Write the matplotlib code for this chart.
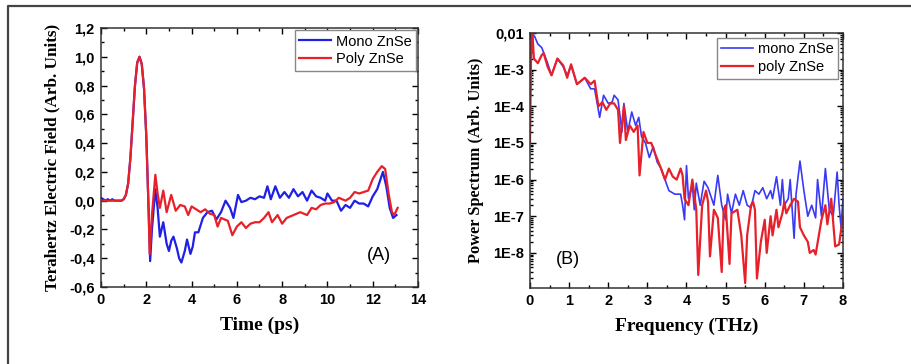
import math
import matplotlib.pyplot as plt
from matplotlib.ticker import MultipleLocator, FuncFormatter, LogLocator, NullFormatter
from matplotlib.lines import Line2D

# time-domain THz field (ps, arb. units)
t_mono = [0.0, 0.1, 0.2, 0.3, 0.4, 0.5, 0.6, 0.7, 0.8, 0.9, 1.0, 1.1, 1.2, 1.3, 1.4, 1.5,
          1.6, 1.7, 1.8, 1.9, 2.0, 2.1, 2.17, 2.25, 2.4, 2.5, 2.6, 2.75, 2.9, 3.0, 3.1,
          3.2, 3.35, 3.45, 3.55, 3.7, 3.8, 3.95, 4.05, 4.15, 4.3, 4.5, 4.7, 4.9, 5.1,
          5.3, 5.5, 5.7, 5.85, 6.05, 6.2, 6.4, 6.6, 6.8, 7.0, 7.2, 7.35, 7.5, 7.7, 7.9,
          8.1, 8.3, 8.5, 8.7, 8.9, 9.1, 9.3, 9.5, 9.7, 9.9, 10.0, 10.2, 10.4, 10.6, 10.8,
          11.0, 11.2, 11.4, 11.6, 11.8, 12.0, 12.2, 12.45, 12.6, 12.75, 12.9, 13.05]
e_mono = [0.02, 0.01, 0.0, 0.01, 0.0, 0.01, 0.0, 0.0, 0.0, 0.0, 0.01, 0.04, 0.12, 0.3, 0.55,
          0.8, 0.96, 1.0, 0.95, 0.78, 0.45, -0.05, -0.42, -0.2, 0.08, -0.05, -0.25, -0.15,
          -0.3, -0.35, -0.28, -0.25, -0.33, -0.4, -0.43, -0.35, -0.27, -0.37, -0.32,
          -0.22, -0.22, -0.12, -0.08, -0.07, -0.13, -0.08, 0.0, -0.05, -0.12, 0.04,
          -0.01, 0.0, 0.02, 0.01, 0.03, 0.02, 0.1, 0.01, 0.1, 0.02, 0.06, 0.02, 0.08,
          0.03, 0.06, 0.0, 0.07, 0.03, 0.02, 0.0, 0.05, 0.0, 0.0, -0.07, -0.03, -0.05,
          0.0, -0.02, -0.02, -0.04, 0.03, 0.08, 0.2, 0.1, -0.05, -0.12, -0.1]

t_poly = [0.0, 0.1, 0.2, 0.3, 0.4, 0.5, 0.6, 0.7, 0.8, 0.9, 1.0, 1.1, 1.2, 1.3, 1.4, 1.5,
          1.6, 1.7, 1.8, 1.9, 2.0, 2.1, 2.15, 2.25, 2.4, 2.5, 2.6, 2.75, 2.9, 3.1, 3.3,
          3.5, 3.7, 3.85, 4.0, 4.2, 4.4, 4.6, 4.8, 5.0, 5.15, 5.3, 5.45, 5.6, 5.8, 6.0,
          6.2, 6.4, 6.6, 6.8, 7.0, 7.2, 7.4, 7.55, 7.8, 8.0, 8.2, 8.5, 8.8, 9.1, 9.3,
          9.5, 9.7, 9.9, 10.1, 10.3, 10.5, 10.8, 11.0, 11.2, 11.4, 11.6, 11.8, 12.0,
          12.2, 12.4, 12.55, 12.7, 12.85, 12.95, 13.1]
e_poly = [0.0, 0.0, 0.0, 0.0, 0.0, 0.0, 0.0, 0.0, 0.0, 0.0, 0.01, 0.04, 0.12, 0.3, 0.55,
          0.8, 0.96, 1.0, 0.95, 0.78, 0.45, -0.05, -0.37, -0.1, 0.18, 0.05, -0.05, 0.07,
          -0.08, 0.04, -0.07, -0.03, -0.04, -0.1, -0.04, -0.06, -0.08, -0.06, -0.09,
          -0.1, -0.18, -0.12, -0.13, -0.14, -0.24, -0.18, -0.15, -0.19, -0.16, -0.15,
          -0.15, -0.12, -0.08, -0.15, -0.1, -0.16, -0.12, -0.1, -0.08, -0.1, -0.05,
          -0.06, -0.03, -0.02, -0.02, -0.01, 0.02, 0.0, 0.02, 0.06, 0.05, 0.06, 0.07,
          0.15, 0.2, 0.24, 0.22, 0.05, -0.08, -0.1, -0.05]

# power spectra (THz, arb. units)
f_mono = [0.0, 0.05, 0.12, 0.2, 0.3, 0.45, 0.55, 0.7, 0.85, 0.95, 1.05, 1.2, 1.4, 1.55,
          1.65, 1.78, 1.88, 2.0, 2.1, 2.15, 2.25, 2.35, 2.4, 2.5, 2.6, 2.7, 2.78, 2.85,
          2.95, 3.05, 3.15, 3.25, 3.35, 3.45, 3.55, 3.7, 3.85, 3.9, 3.95, 4.0, 4.05,
          4.15, 4.2, 4.25, 4.35, 4.45, 4.55, 4.7, 4.8, 4.9, 5.0, 5.05, 5.15, 5.25, 5.35,
          5.45, 5.55, 5.65, 5.75, 5.85, 5.95, 6.05, 6.15, 6.2, 6.3, 6.4, 6.45, 6.5, 6.6,
          6.65, 6.75, 6.8, 6.9, 7.0, 7.1, 7.2, 7.3, 7.35, 7.45, 7.55, 7.65, 7.75, 7.85,
          7.9, 7.95, 8.0]
p_mono = [1e-4, 1e-2, 8e-3, 5e-3, 4e-3, 1.5e-3, 7e-4, 2e-3, 1.2e-3, 7e-4, 1.3e-3, 4e-4,
          6e-4, 3e-4, 3e-4, 5e-5, 2e-4, 1.2e-4, 1.3e-4, 2e-4, 1.5e-4, 2e-5, 1.2e-4, 2e-5,
          7e-5, 3e-5, 5e-5, 1.5e-5, 1e-5, 4e-6, 8e-6, 3e-6, 2e-6, 1e-6, 5e-7, 4e-7, 4e-7,
          2e-7, 8e-8, 2.4e-6, 3e-7, 7e-7, 1.5e-7, 8e-7, 2e-7, 9e-7, 6e-7, 2e-7, 1.3e-6,
          2e-7, 8e-8, 4e-7, 1.2e-7, 4e-7, 2e-7, 5e-7, 2e-7, 1.7e-7, 5e-7, 4e-7, 6e-7,
          3e-7, 5e-7, 3e-7, 1.2e-6, 2e-7, 1e-6, 2e-7, 3e-7, 1e-6, 2.5e-8, 4e-7, 3.2e-6,
          5e-7, 1e-7, 2e-7, 9e-8, 1e-6, 1e-7, 2e-6, 1.5e-7, 1e-7, 1.6e-6, 2e-7, 5e-8,
          3e-7]

f_poly = [0.0, 0.03, 0.06, 0.1, 0.2, 0.3, 0.35, 0.45, 0.55, 0.7, 0.85, 0.95, 1.05, 1.2,
          1.4, 1.55, 1.65, 1.75, 1.85, 1.95, 2.05, 2.15, 2.25, 2.3, 2.4, 2.45, 2.55,
          2.65, 2.75, 2.8, 2.9, 3.0, 3.1, 3.2, 3.35, 3.45, 3.55, 3.65, 3.75, 3.85, 3.9,
          3.95, 4.05, 4.15, 4.25, 4.3, 4.4, 4.5, 4.55, 4.6, 4.7, 4.8, 4.9, 4.95, 5.0,
          5.1, 5.15, 5.3, 5.4, 5.5, 5.55, 5.65, 5.7, 5.75, 5.8, 5.9, 6.0, 6.05, 6.15,
          6.2, 6.3, 6.35, 6.45, 6.5, 6.55, 6.65, 6.75, 6.85, 6.9, 7.0, 7.1, 7.15, 7.25,
          7.3, 7.45, 7.55, 7.6, 7.7, 7.8, 7.9, 8.0]
p_poly = [1e-5, 5e-3, 1e-2, 2e-3, 1.5e-3, 2.5e-3, 2.8e-3, 1.2e-3, 7e-4, 2e-3, 1.3e-3,
          6e-4, 1.4e-3, 4e-4, 6e-4, 4e-4, 5e-4, 1e-4, 1.3e-4, 8e-5, 1.2e-4, 1.2e-4,
          8e-5, 1e-5, 1e-4, 1.2e-5, 3e-5, 2e-5, 3e-5, 1.3e-6, 2e-5, 1e-5, 1e-5, 5e-6,
          2e-6, 1e-6, 2e-6, 1.2e-6, 1e-6, 2e-6, 1.3e-6, 3e-7, 2e-7, 1e-6, 1.5e-7,
          2.5e-9, 2e-7, 5e-7, 2.5e-7, 8e-9, 1.5e-7, 9e-8, 3e-9, 1.5e-7, 2e-7, 5e-9,
          1.2e-7, 1.5e-7, 3e-8, 1.5e-9, 3e-8, 2e-7, 2.5e-7, 1.5e-7, 2e-9, 2e-8, 8e-8,
          1e-8, 1e-7, 3e-8, 1.5e-7, 5e-8, 1.2e-7, 2.5e-7, 1.2e-7, 2e-7, 3e-7, 2.5e-7,
          5e-8, 3e-8, 2e-8, 1e-8, 1.2e-8, 9e-9, 8e-8, 2e-7, 6e-8, 3e-7, 1.5e-8, 1.7e-8,
          1e-7]

BLUE = "#1f1fe6"
RED = "#e8202a"
TICK_SIZE = 10.5
label_font = {"family": "Liberation Serif", "weight": "bold"}
legend_kw = dict(loc="upper right", prop={"family": "Liberation Sans", "size": 10.5},
                 fancybox=False, edgecolor="#888888", framealpha=1, borderpad=0.3,
                 labelspacing=0.25, handlelength=2.2, handletextpad=0.3)


def comma(v, pos):
    return f"{v:.1f}".replace(".", ",")


def log_label(v, pos):
    if v < 5e-9:
        return ""
    if abs(v - 0.01) < 1e-6:
        return "0,01"
    return "1E%d" % round(math.log10(v))


def style_ticks(ax):
    ax.tick_params(which="both", direction="in", top=True, right=True, width=1.0)
    ax.tick_params(which="major", length=4, pad=4.5)
    ax.tick_params(which="minor", length=2.5)
    for lab in ax.get_xticklabels() + ax.get_yticklabels():
        lab.set_fontfamily("Liberation Sans")
        lab.set_fontweight("bold")
        lab.set_fontsize(TICK_SIZE)
    for s in ax.spines.values():
        s.set_linewidth(1.1)
        s.set_color("#333333")


fig = plt.figure(figsize=(9.12, 3.64), dpi=100)

# outer frame (top and left edges)
fig.add_artist(Line2D([8 / 912, 8 / 912, 1.0], [0.0, 1 - 6 / 364, 1 - 6 / 364],
                      transform=fig.transFigure, color="#444444", lw=1.6))

ax1 = fig.add_axes([101 / 912, 77 / 364, 317 / 912, 259 / 364])
ax1.plot(t_mono, e_mono, color=BLUE, lw=1.6, label="Mono ZnSe")
ax1.plot(t_poly, e_poly, color=RED, lw=1.6, label="Poly ZnSe")
ax1.set_xlim(0, 14)
ax1.set_ylim(-0.6, 1.2)
ax1.xaxis.set_major_locator(MultipleLocator(2))
ax1.xaxis.set_minor_locator(MultipleLocator(1))
ax1.yaxis.set_major_locator(MultipleLocator(0.2))
ax1.yaxis.set_minor_locator(MultipleLocator(0.1))
ax1.yaxis.set_major_formatter(FuncFormatter(comma))
ax1.set_xlabel("Time (ps)", fontsize=14, labelpad=7, **label_font)
ax1.set_ylabel("Terahertz Electric Field (Arb. Units)", fontsize=12.3, labelpad=6, **label_font)
ax1.text(0.915, 0.12, "(A)", transform=ax1.transAxes, fontsize=13,
         family="Liberation Sans", ha="right", va="center")
ax1.legend(borderaxespad=0.15, **legend_kw)
style_ticks(ax1)

ax2 = fig.add_axes([530 / 912, 76 / 364, 313 / 912, 255 / 364])
ax2.plot(f_mono, p_mono, color="#3a3af5", lw=1.2, label="mono ZnSe")
ax2.plot(f_poly, p_poly, color=RED, lw=1.6, label="poly ZnSe")
ax2.set_yscale("log")
ax2.set_xlim(0, 8)
ax2.set_ylim(1.1e-9, 1e-2)
ax2.xaxis.set_major_locator(MultipleLocator(1))
ax2.xaxis.set_minor_locator(MultipleLocator(0.5))
ax2.yaxis.set_major_locator(LogLocator(base=10, numticks=12))
ax2.yaxis.set_minor_locator(LogLocator(base=10, subs=range(2, 10), numticks=12))
ax2.yaxis.set_minor_formatter(NullFormatter())
ax2.yaxis.set_major_formatter(FuncFormatter(log_label))
ax2.set_xlabel("Frequency (THz)", fontsize=14, labelpad=7, **label_font)
ax2.set_ylabel("Power Spectrum (Arb. Units)", fontsize=11.8, labelpad=6, **label_font)
ax2.text(0.12, 0.11, "(B)", transform=ax2.transAxes, fontsize=13,
         family="Liberation Sans", ha="center", va="center")
ax2.legend(borderaxespad=0.35, **legend_kw)
style_ticks(ax2)

fig.savefig("out.png", dpi=100)
